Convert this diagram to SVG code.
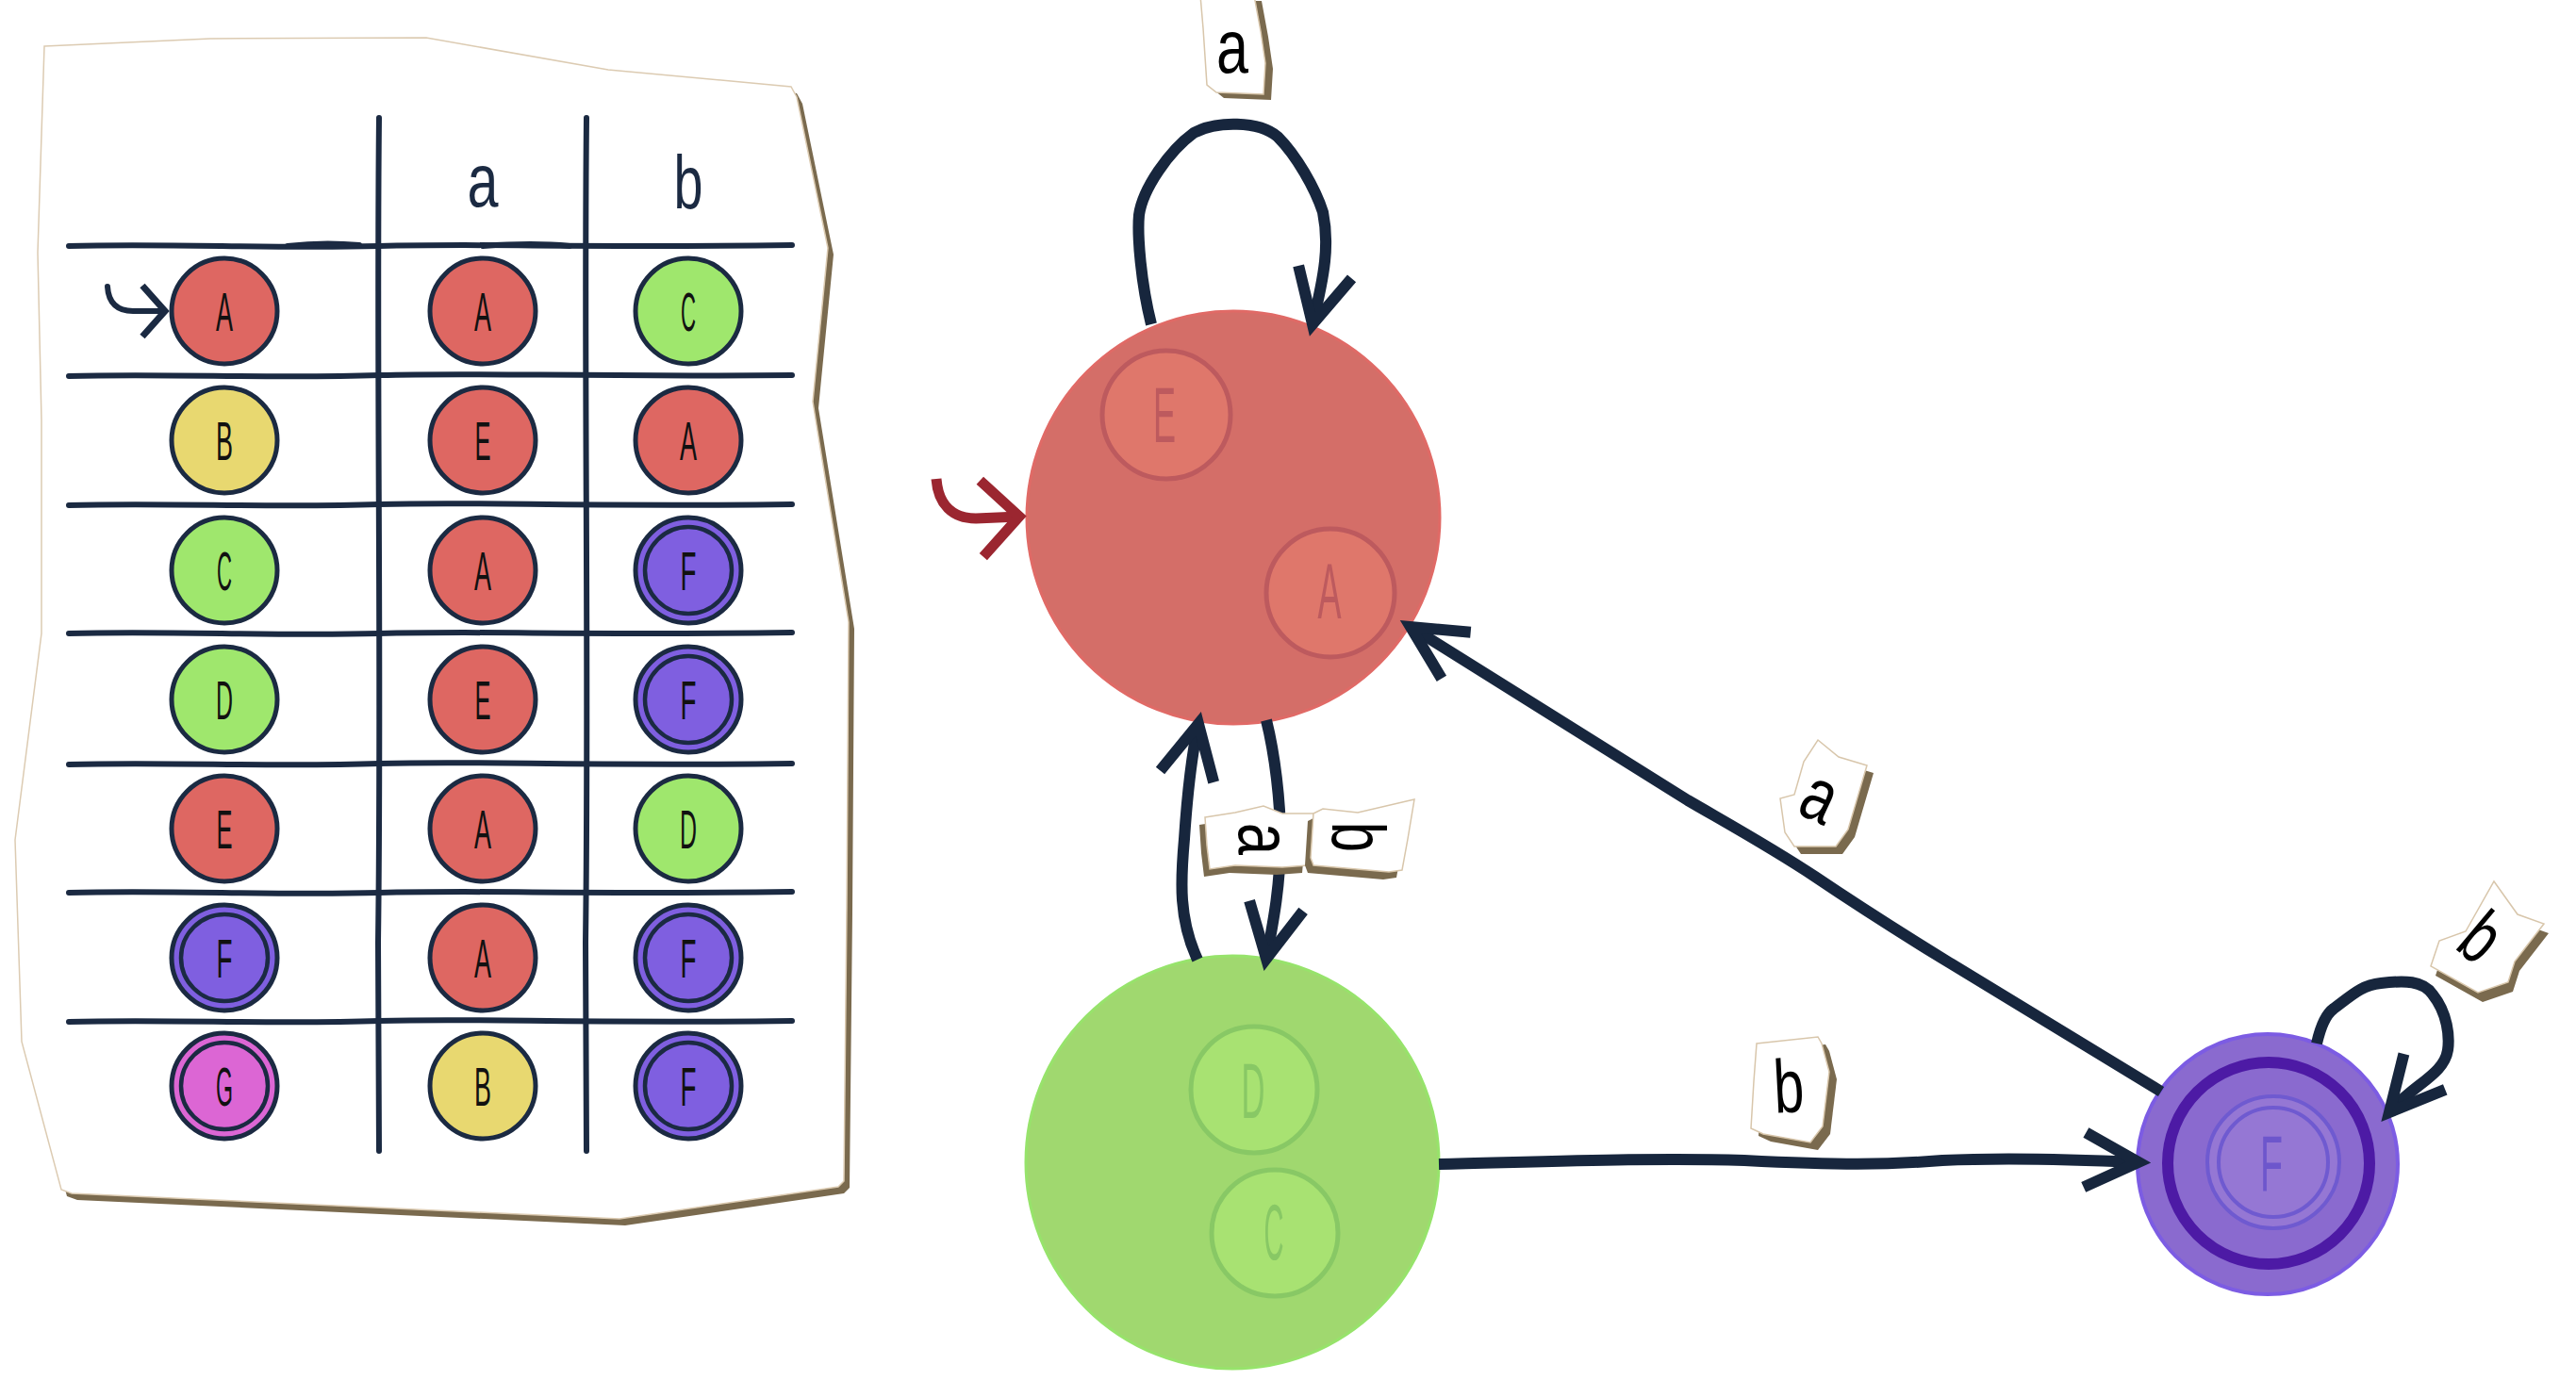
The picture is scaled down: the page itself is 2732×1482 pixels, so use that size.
<svg xmlns="http://www.w3.org/2000/svg" width="2732" height="1482" viewBox="0 0 2732 1482">
  <style>
    .grid { fill: none; stroke: #1b2a42; stroke-width: 6; stroke-linecap: round; }
    .cell { stroke: #1b2a42; stroke-width: 5; }
    .ring { fill: none; stroke: #1b2a42; stroke-width: 4.5; }
    .red { fill: #de6762; }
    .green { fill: #9fe76d; }
    .yellow { fill: #e8d870; }
    .purple { fill: #7f5fe0; }
    .pink { fill: #dc66d4; }
    .cl { font-family: "Liberation Sans", Arial, sans-serif; font-size: 58px; fill: #111; text-anchor: middle; }
    .hd { font-family: "Liberation Sans", Arial, sans-serif; font-size: 80px; fill: #1b2a42; text-anchor: middle; }
    .edge { fill: none; stroke: #17263d; stroke-width: 12; stroke-linejoin: round; stroke-linecap: butt; }
    .tag { fill: #ffffff; stroke: #d8c6ab; stroke-width: 1.5; }
    .tag-shadow { fill: #7a6a4e; }
    .lbl { font-family: "Liberation Sans", Arial, sans-serif; font-size: 80px; fill: #000; text-anchor: middle; }
    .big { font-family: "Liberation Sans", Arial, sans-serif; font-size: 84px; text-anchor: middle; }
  </style>
  <defs>
    <marker id="head" markerUnits="userSpaceOnUse" orient="auto" markerWidth="160" markerHeight="160" viewBox="-80 -80 160 160" refX="0" refY="0" overflow="visible">
      <path d="M-57,-29 L0,0 L-57,29" fill="none" stroke="#17263d" stroke-width="12" stroke-linejoin="miter"/>
    </marker>
    <marker id="head-red" markerUnits="userSpaceOnUse" orient="auto" markerWidth="160" markerHeight="160" viewBox="-80 -80 160 160" refX="0" refY="0" overflow="visible">
      <path d="M-40,-40 L0,0 L-40,41" fill="none" stroke="#9b2630" stroke-width="11" stroke-linejoin="miter"/>
    </marker>
    <marker id="head-small" markerUnits="userSpaceOnUse" orient="auto" markerWidth="80" markerHeight="80" viewBox="-40 -40 80 80" refX="0" refY="0" overflow="visible">
      <path d="M-24,-27 L0,0 L-24,27" fill="none" stroke="#1b2a42" stroke-width="7" stroke-linejoin="miter"/>
    </marker>
  </defs>

  <rect width="2732" height="1482" fill="#ffffff"/>

  <!-- transition table on a torn sheet of paper -->
  <g id="transition-table">
    <polygon transform="translate(6,7)" fill="#7a6a4e" points="47,49 223,41 452,40 645,74 839,92 845,103 878,263 862,426 900,660 898,962 895,1253 889,1259 657,1293 76,1266 65,1262 23,1105 16,891 44,672 44,446 40,268"/>
    <polygon fill="#ffffff" stroke="#dccbb2" stroke-width="1.5" points="47,49 223,41 452,40 645,74 839,92 845,103 878,263 862,426 900,660 898,962 895,1253 889,1259 657,1293 76,1266 65,1262 23,1105 16,891 44,672 44,446 40,268"/>

    <g id="grid">
      <path class="grid" d="M402,125 C399,400 405,700 401,1000 L402,1221"/>
      <path class="grid" d="M622,125 C619,400 625,700 621,1000 L622,1221"/>
      <path class="grid" stroke-width="7" d="M73,261 C180,258 290,264 402,261 C520,258 600,263 840,260"/>
      <path class="grid" stroke-width="10" d="M305,261 C330,258 360,258 381,260"/>
      <path class="grid" stroke-width="10" d="M512,261 C540,259 575,258 604,261"/>
      <path class="grid" d="M73,399 C180,396 290,402 402,398 C520,395 600,400 840,398"/>
      <path class="grid" d="M73,536 C180,533 290,539 402,535 C520,532 600,538 840,535"/>
      <path class="grid" d="M73,672 C180,669 290,675 402,672 C520,669 600,674 840,671"/>
      <path class="grid" d="M73,811 C180,808 290,814 402,810 C520,807 600,813 840,810"/>
      <path class="grid" d="M73,947 C180,944 290,950 402,947 C520,944 600,949 840,946"/>
      <path class="grid" d="M73,1084 C180,1081 290,1087 402,1083 C520,1080 600,1086 840,1083"/>
    </g>

    <text class="hd" x="512" y="219" textLength="33" lengthAdjust="spacingAndGlyphs">a</text>
    <text class="hd" x="730" y="221" textLength="31" lengthAdjust="spacingAndGlyphs">b</text>

    <!-- row A -->
    <circle class="cell red" cx="238" cy="330" r="56"/>
    <text class="cl" x="238" y="351" textLength="18" lengthAdjust="spacingAndGlyphs">A</text>
    <circle class="cell red" cx="512" cy="330" r="56"/>
    <text class="cl" x="512" y="351" textLength="18" lengthAdjust="spacingAndGlyphs">A</text>
    <circle class="cell green" cx="730" cy="330" r="56"/>
    <text class="cl" x="730" y="351" textLength="16" lengthAdjust="spacingAndGlyphs">C</text>
    <path class="grid" stroke-width="7" marker-end="url(#head-small)" d="M114,304 C115,322 125,330 141,330 L175,330"/>

    <!-- row B -->
    <circle class="cell yellow" cx="238" cy="467" r="56"/>
    <text class="cl" x="238" y="488" textLength="18" lengthAdjust="spacingAndGlyphs">B</text>
    <circle class="cell red" cx="512" cy="467" r="56"/>
    <text class="cl" x="512" y="488" textLength="17" lengthAdjust="spacingAndGlyphs">E</text>
    <circle class="cell red" cx="730" cy="467" r="56"/>
    <text class="cl" x="730" y="488" textLength="18" lengthAdjust="spacingAndGlyphs">A</text>

    <!-- row C -->
    <circle class="cell green" cx="238" cy="605" r="56"/>
    <text class="cl" x="238" y="626" textLength="16" lengthAdjust="spacingAndGlyphs">C</text>
    <circle class="cell red" cx="512" cy="605" r="56"/>
    <text class="cl" x="512" y="626" textLength="18" lengthAdjust="spacingAndGlyphs">A</text>
    <circle class="cell purple" cx="730" cy="605" r="56"/>
    <circle class="ring" cx="730" cy="605" r="46"/>
    <text class="cl" x="730" y="626" textLength="17" lengthAdjust="spacingAndGlyphs">F</text>

    <!-- row D -->
    <circle class="cell green" cx="238" cy="742" r="56"/>
    <text class="cl" x="238" y="763" textLength="18" lengthAdjust="spacingAndGlyphs">D</text>
    <circle class="cell red" cx="512" cy="742" r="56"/>
    <text class="cl" x="512" y="763" textLength="17" lengthAdjust="spacingAndGlyphs">E</text>
    <circle class="cell purple" cx="730" cy="742" r="56"/>
    <circle class="ring" cx="730" cy="742" r="46"/>
    <text class="cl" x="730" y="763" textLength="17" lengthAdjust="spacingAndGlyphs">F</text>

    <!-- row E -->
    <circle class="cell red" cx="238" cy="879" r="56"/>
    <text class="cl" x="238" y="900" textLength="17" lengthAdjust="spacingAndGlyphs">E</text>
    <circle class="cell red" cx="512" cy="879" r="56"/>
    <text class="cl" x="512" y="900" textLength="18" lengthAdjust="spacingAndGlyphs">A</text>
    <circle class="cell green" cx="730" cy="879" r="56"/>
    <text class="cl" x="730" y="900" textLength="18" lengthAdjust="spacingAndGlyphs">D</text>

    <!-- row F -->
    <circle class="cell purple" cx="238" cy="1016" r="56"/>
    <circle class="ring" cx="238" cy="1016" r="46"/>
    <text class="cl" x="238" y="1037" textLength="17" lengthAdjust="spacingAndGlyphs">F</text>
    <circle class="cell red" cx="512" cy="1016" r="56"/>
    <text class="cl" x="512" y="1037" textLength="18" lengthAdjust="spacingAndGlyphs">A</text>
    <circle class="cell purple" cx="730" cy="1016" r="56"/>
    <circle class="ring" cx="730" cy="1016" r="46"/>
    <text class="cl" x="730" y="1037" textLength="17" lengthAdjust="spacingAndGlyphs">F</text>

    <!-- row G -->
    <circle class="cell pink" cx="238" cy="1152" r="56"/>
    <circle class="ring" cx="238" cy="1152" r="46"/>
    <text class="cl" x="238" y="1173" textLength="18" lengthAdjust="spacingAndGlyphs">G</text>
    <circle class="cell yellow" cx="512" cy="1152" r="56"/>
    <text class="cl" x="512" y="1173" textLength="18" lengthAdjust="spacingAndGlyphs">B</text>
    <circle class="cell purple" cx="730" cy="1152" r="56"/>
    <circle class="ring" cx="730" cy="1152" r="46"/>
    <text class="cl" x="730" y="1173" textLength="17" lengthAdjust="spacingAndGlyphs">F</text>
  </g>

  <!-- merged state {E, A} -->
  <g id="state-AE">
    <circle cx="1308" cy="549" r="219" fill="#d46e68" stroke="#e06a66" stroke-width="3"/>
    <circle cx="1237" cy="440" r="68" fill="#df776b" stroke="#bd5a5e" stroke-width="5"/>
    <text class="big" x="1235" y="469" fill="#bd5a5e" textLength="24" lengthAdjust="spacingAndGlyphs">E</text>
    <circle cx="1411" cy="629" r="68" fill="#df776b" stroke="#bd5a5e" stroke-width="5"/>
    <text class="big" x="1410" y="656" fill="#bd5a5e" textLength="25" lengthAdjust="spacingAndGlyphs">A</text>
  </g>

  <!-- merged state {D, C} -->
  <g id="state-CD">
    <circle cx="1307" cy="1233" r="219" fill="#a0d86f" stroke="#97e36b" stroke-width="3"/>
    <circle cx="1330" cy="1156" r="67" fill="#a8e272" stroke="#88c865" stroke-width="5"/>
    <text class="big" x="1329" y="1186" fill="#88c865" textLength="25" lengthAdjust="spacingAndGlyphs">D</text>
    <circle cx="1352" cy="1308" r="67" fill="#a8e272" stroke="#88c865" stroke-width="5"/>
    <text class="big" x="1351" y="1336" fill="#88c865" textLength="21" lengthAdjust="spacingAndGlyphs">C</text>
  </g>

  <!-- accepting state F -->
  <g id="state-F">
    <circle cx="2405" cy="1235" r="138" fill="#8a6acf" stroke="#7c5ce3" stroke-width="4"/>
    <circle cx="2406" cy="1234" r="107" fill="none" stroke="#4d1aa5" stroke-width="12"/>
    <circle cx="2411" cy="1233" r="70" fill="#9577d4" stroke="#6f5ad0" stroke-width="4"/>
    <circle cx="2411" cy="1233" r="58" fill="none" stroke="#6f5ad0" stroke-width="4"/>
    <text class="big" x="2409" y="1263" fill="#6d56cc" textLength="24" lengthAdjust="spacingAndGlyphs">F</text>
  </g>

  <!-- transitions -->
  <g id="connectors">
    <path d="M993,508 C995,535 1010,550 1035,550 L1081,548" fill="none" stroke="#9b2630" stroke-width="11" marker-end="url(#head-red)"/>
    <path class="edge" marker-end="url(#head)" d="M1221,344 C1210,300 1206,250 1208,228 C1212,200 1240,160 1266,141 C1290,128 1335,128 1355,145 C1375,165 1395,200 1403,225 C1410,260 1405,290 1392,344"/>
    <path class="edge" marker-end="url(#head)" d="M1270,1018 C1250,975 1252,935 1256,890 C1259,845 1264,800 1271,768"/>
    <path class="edge" marker-end="url(#head)" d="M1343,764 C1352,800 1358,850 1358,890 C1358,940 1350,980 1343,1017"/>
    <path class="edge" marker-end="url(#head)" d="M2292,1158 L2067,1021 C2010,986 1965,957 1925,930 C1880,900 1840,878 1790,849 L1496,665"/>
    <path class="edge" marker-end="url(#head)" d="M1526,1235 C1650,1232 1750,1228 1850,1231 C1950,1236 2000,1236 2060,1231 C2120,1228 2180,1229 2268,1233"/>
    <path class="edge" marker-end="url(#head)" d="M2457,1107 C2462,1085 2468,1075 2475,1070 C2495,1055 2505,1045 2525,1043 C2550,1040 2570,1040 2580,1055 C2596,1075 2598,1100 2596,1114 C2592,1140 2560,1150 2534,1180"/>
  </g>

  <!-- transition labels on paper scraps -->
  <g id="edge-labels">
    <g id="label-loop-a">
      <polygon class="tag-shadow" transform="translate(8,6)" points="1273,-5 1276,30 1280,90 1290,98 1340,100 1342,67 1337,33 1330,-5"/>
      <polygon class="tag" points="1273,-5 1276,30 1280,90 1290,98 1340,100 1342,67 1337,33 1330,-5"/>
      <text class="lbl" x="1307" y="77" textLength="34" lengthAdjust="spacingAndGlyphs">a</text>
    </g>
    <g id="label-down-a">
      <polygon class="tag-shadow" transform="translate(-6,8)" points="1278,867 1310,862 1340,855 1360,863 1393,863 1392,875 1388,907 1387,918 1360,920 1310,918 1283,922 1280,897"/>
      <polygon class="tag" points="1278,867 1310,862 1340,855 1360,863 1393,863 1392,875 1388,907 1387,918 1360,920 1310,918 1283,922 1280,897"/>
      <text class="lbl" transform="translate(1335,890) rotate(90)" x="0" y="21" textLength="34" lengthAdjust="spacingAndGlyphs">a</text>
    </g>
    <g id="label-down-b">
      <polygon class="tag-shadow" transform="translate(-6,8)" points="1393,863 1403,858 1440,862 1500,848 1493,890 1487,923 1473,925 1393,918 1390,910"/>
      <polygon class="tag" points="1393,863 1403,858 1440,862 1500,848 1493,890 1487,923 1473,925 1393,918 1390,910"/>
      <text class="lbl" transform="translate(1442,888) rotate(90)" x="0" y="29" textLength="32" lengthAdjust="spacingAndGlyphs">b</text>
    </g>
    <g id="label-diag-a">
      <polygon class="tag-shadow" transform="translate(7,8)" points="1928,785 1950,803 1980,812 1960,880 1947,898 1903,898 1893,883 1888,847 1903,843 1913,808"/>
      <polygon class="tag" points="1928,785 1950,803 1980,812 1960,880 1947,898 1903,898 1893,883 1888,847 1903,843 1913,808"/>
      <text class="lbl" transform="translate(1928,850) rotate(25)" x="0" y="21" textLength="34" lengthAdjust="spacingAndGlyphs">a</text>
    </g>
    <g id="label-right-b">
      <polygon class="tag-shadow" transform="translate(8,8)" points="1863,1107 1928,1100 1932,1107 1940,1137 1933,1195 1920,1212 1870,1203 1857,1197 1860,1147"/>
      <polygon class="tag" points="1863,1107 1928,1100 1932,1107 1940,1137 1933,1195 1920,1212 1870,1203 1857,1197 1860,1147"/>
      <text class="lbl" transform="translate(1897,1150) rotate(-3)" x="0" y="30" textLength="32" lengthAdjust="spacingAndGlyphs">b</text>
    </g>
    <g id="label-loop-b">
      <polygon class="tag-shadow" transform="translate(5,10)" points="2645,935 2670,970 2698,980 2667,1020 2660,1042 2628,1053 2578,1025 2587,998 2615,988"/>
      <polygon class="tag" points="2645,935 2670,970 2698,980 2667,1020 2660,1042 2628,1053 2578,1025 2587,998 2615,988"/>
      <text class="lbl" transform="translate(2633,993) rotate(40)" x="0" y="29" textLength="32" lengthAdjust="spacingAndGlyphs">b</text>
    </g>
  </g>
</svg>
